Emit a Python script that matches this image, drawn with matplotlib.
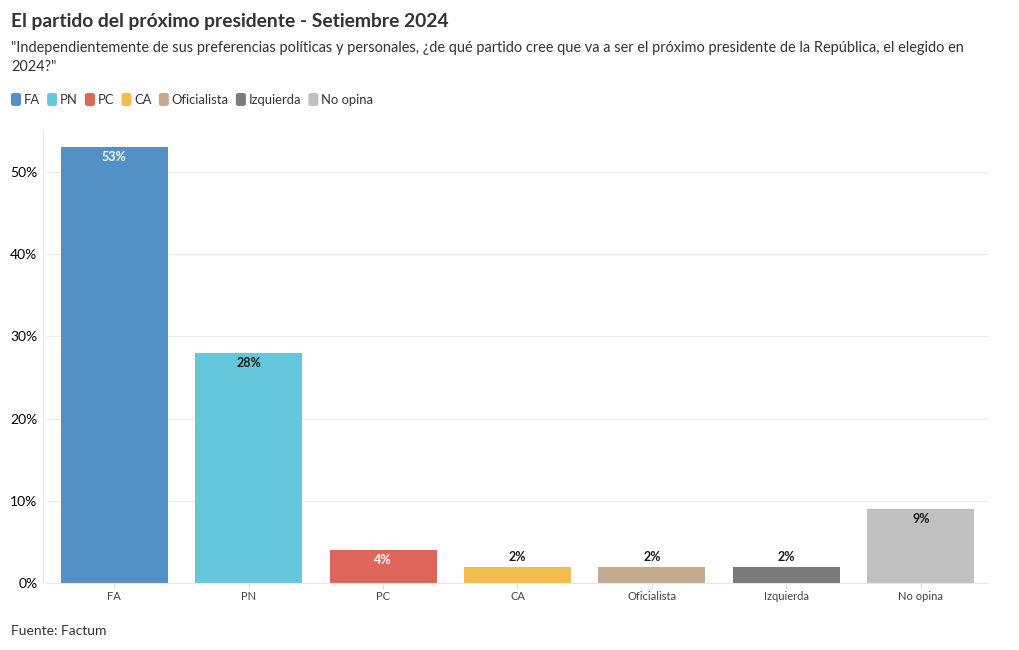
import matplotlib
matplotlib.use("Agg")
import matplotlib.pyplot as plt
from matplotlib.patches import FancyBboxPatch

categories = ["FA", "PN", "PC", "CA", "Oficialista", "Izquierda", "No opina"]
values = [53, 28, 4, 2, 2, 2, 9]
colors = ["#5290c6", "#64c7dc", "#df665b", "#f3bd4b", "#c4ab8f", "#7b7b7b", "#c0c0c0"]
label_colors = ["white", "#1a1a1a", "white", "#1a1a1a", "#1a1a1a", "#1a1a1a", "#1a1a1a"]
yticks = [0, 10, 20, 30, 40, 50]

plt.rcParams['font.family'] = ['Lato', 'DejaVu Sans']

W, H = 1020, 650
fig = plt.figure(figsize=(W/100, H/100), dpi=100)
ax = fig.add_axes([47/W, 1-583/H, (988-47)/W, (583-130)/H])

x = range(len(categories))
ax.bar(x, values, width=0.797, color=colors, zorder=2)
ax.set_xlim(-0.5, len(categories)-0.5)
ax.set_ylim(0, 55.1)
ax.set_yticks(yticks)
ax.set_yticklabels([f"{v}%" for v in yticks], fontsize=9.8, color="#444444")
ax.set_xticks(list(x))
ax.set_xticklabels(categories, fontsize=8, color="#444444")
ax.tick_params(axis='y', length=0, pad=4)
ax.tick_params(axis='x', length=4, color="#dddddd", pad=2)
ax.grid(axis='y', color="#ebebeb", linewidth=0.8, zorder=0)
for s in ["top", "right"]:
    ax.spines[s].set_visible(False)
ax.spines["left"].set_color("#e6e6e6")
ax.spines["left"].set_position(("outward", 3))
ax.spines["bottom"].set_color("#e6e6e6")

px = 55.1 / (583-130)
for i, v in enumerate(values):
    y = v - 10*px if v >= 3 else v + 10*px
    ax.text(i, y, f"{v}%", ha="center", va="center", fontsize=9, fontweight="bold",
            color=label_colors[i], zorder=3)

fig.text(11/W, 1-22/H, "El partido del próximo presidente - Setiembre 2024",
         fontsize=13.85, fontweight="bold", color="#333333", va="center", ha="left")
fig.text(11/W, 1-48/H,
         "\"Independientemente de sus preferencias políticas y personales, ¿de qué partido cree que va a ser el próximo presidente de la República, el elegido en",
         fontsize=10.45, color="#333333", va="center", ha="left")
fig.text(11/W, 1-67/H, "2024?\"", fontsize=10.45, color="#333333", va="center", ha="left")

# legend
lx = 11
r = fig.canvas.get_renderer()
for c, col in zip(categories, colors):
    fig.patches.append(FancyBboxPatch((lx/W, 1-106/H), 10/W, 13/H,
                                      boxstyle="round,pad=0,rounding_size=0.003",
                                      transform=fig.transFigure, facecolor=col,
                                      edgecolor="none"))
    t = fig.text((lx+13)/W, 1-100/H, c, fontsize=9.4, color="#333333", va="center", ha="left")
    bb = t.get_window_extent(renderer=r)
    lx = lx + 13 + bb.width + 7

fig.text(11/W, 1-631/H, "Fuente: Factum", fontsize=10, color="#333333", va="center", ha="left")

fig.savefig("out.png", dpi=100, facecolor="white")
